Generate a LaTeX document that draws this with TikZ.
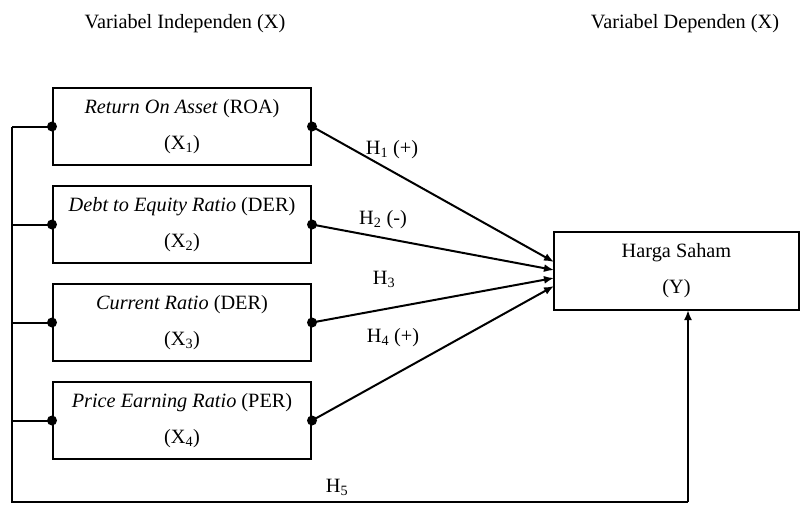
\documentclass[tikz,border=0pt]{standalone}
\usepackage{fontspec}
\setmainfont{Liberation Serif}
\usetikzlibrary{arrows.meta}
\begin{document}
\begin{tikzpicture}[x=1pt,y=-1pt,
  box/.style={draw,line width=2pt,minimum width=258pt,minimum height=77pt,inner sep=0pt,align=center,
    font=\fontsize{20.3}{36}\selectfont},
  lbl/.style={font=\fontsize{20.3}{22}\selectfont,inner sep=0pt},
  con/.style={line width=2pt},
  arr/.style={con,-{Latex[length=10pt,width=8pt]}},
  dot/.style={circle,fill=black,inner sep=0pt,minimum size=10pt}]
\useasboundingbox (0,0) rectangle (801,504);
\node[lbl] (ti) at (185,24) {Variabel Independen (X)};
\node[lbl] (td) at (685,24) {Variabel Dependen (X)};
\node[box] (x1) at (182,126.5) {\textit{Return On Asset} (ROA)\\(X\textsubscript{1})};
\node[box] (x2) at (182,224.5) {\textit{Debt to Equity Ratio} (DER)\\(X\textsubscript{2})};
\node[box] (x3) at (182,322.5) {\textit{Current Ratio} (DER)\\(X\textsubscript{3})};
\node[box] (x4) at (182,420.5) {\textit{Price Earning Ratio} (PER)\\(X\textsubscript{4})};
\node[box,minimum width=245pt,minimum height=78pt] (y) at (676.5,271) {Harga Saham\\(Y)};
\foreach \n in {x1,x2,x3,x4}{
  \node[dot] (\n l) at (\n.west) {};
  \node[dot] (\n r) at (\n.east) {};
}
\coordinate (t1) at (554,262);
\coordinate (t2) at (554,270);
\coordinate (t3) at (554,278);
\coordinate (t4) at (554,286);
\draw[arr] (x1r.center) -- (t1);
\draw[arr] (x2r.center) -- (t2);
\draw[arr] (x3r.center) -- (t3);
\draw[arr] (x4r.center) -- (t4);
\coordinate (btop) at (12,126.5);
\coordinate (bl) at (12,502);
\coordinate (br) at (688,502);
\coordinate (ybot) at (688,310);
\draw[con] (btop) -- (bl) -- (br);
\draw[arr] (br) -- (ybot);
\foreach \n in {x1,x2,x3,x4}{
  \draw[con] (\n l.center) -- (12,0 |- \n l.center);
}
\node[lbl] (h1) at (392,150) {H\textsubscript{1} (+)};
\node[lbl] (h2) at (383,220) {H\textsubscript{2} (-)};
\node[lbl] (h3) at (384,279) {H\textsubscript{3}};
\node[lbl] (h4) at (393,338) {H\textsubscript{4} (+)};
\node[lbl] (h5) at (337,487) {H\textsubscript{5}};
\end{tikzpicture}
\end{document}
